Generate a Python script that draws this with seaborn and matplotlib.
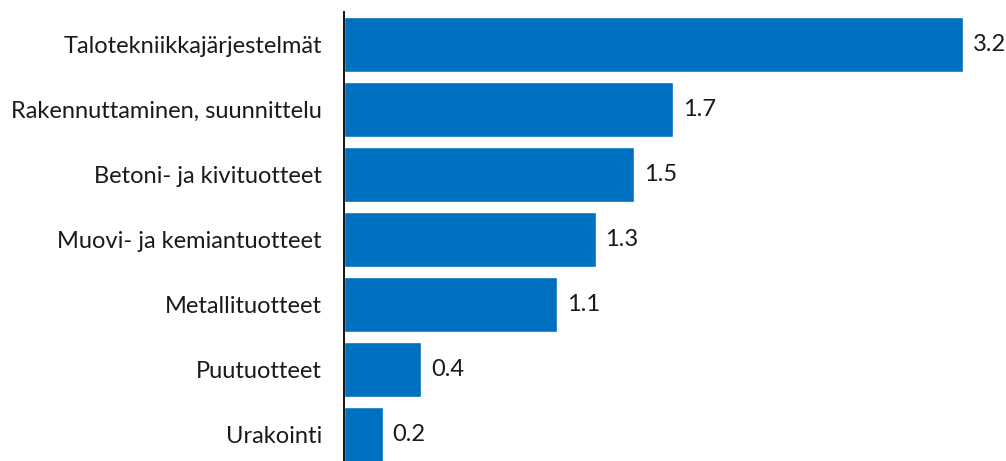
import matplotlib
matplotlib.use("Agg")
import matplotlib.pyplot as plt
import seaborn as sns
import pandas as pd

categories = ["Talotekniikkajärjestelmät", "Rakennuttaminen, suunnittelu",
              "Betoni- ja kivituotteet", "Muovi- ja kemiantuotteet",
              "Metallituotteet", "Puutuotteet", "Urakointi"]
values = [3.2, 1.7, 1.5, 1.3, 1.1, 0.4, 0.2]

sns.set_theme(style="white")
plt.rcParams['font.family'] = ['Lato', 'DejaVu Sans']

df = pd.DataFrame({"cat": categories, "val": values})

fig = plt.figure(figsize=(10.06, 4.61), dpi=100)
ax = fig.add_axes([344/1006, 0.0, 1 - 344/1006, 1 - 12/461])
sns.barplot(data=df, y="cat", x="val", orient="h", color="#0070C0",
            saturation=1, width=0.84, ax=ax)
ax.set_xlim(0, 3.42)
ax.set_ylim(6.41, -0.5)
for c in ax.containers:
    ax.bar_label(c, labels=[f"{v:.1f}" for v in values], padding=7,
                 fontsize=17, color="#1a1a1a")
ax.set_xlabel("")
ax.set_ylabel("")
ax.set_xticks([])
ax.tick_params(axis="y", length=0, pad=16, labelsize=17, labelcolor="#1a1a1a")
for s in ["top", "right", "bottom"]:
    ax.spines[s].set_visible(False)
ax.spines["left"].set_color("black")
ax.spines["left"].set_linewidth(1.3)
fig.savefig("out.png", dpi=100)
